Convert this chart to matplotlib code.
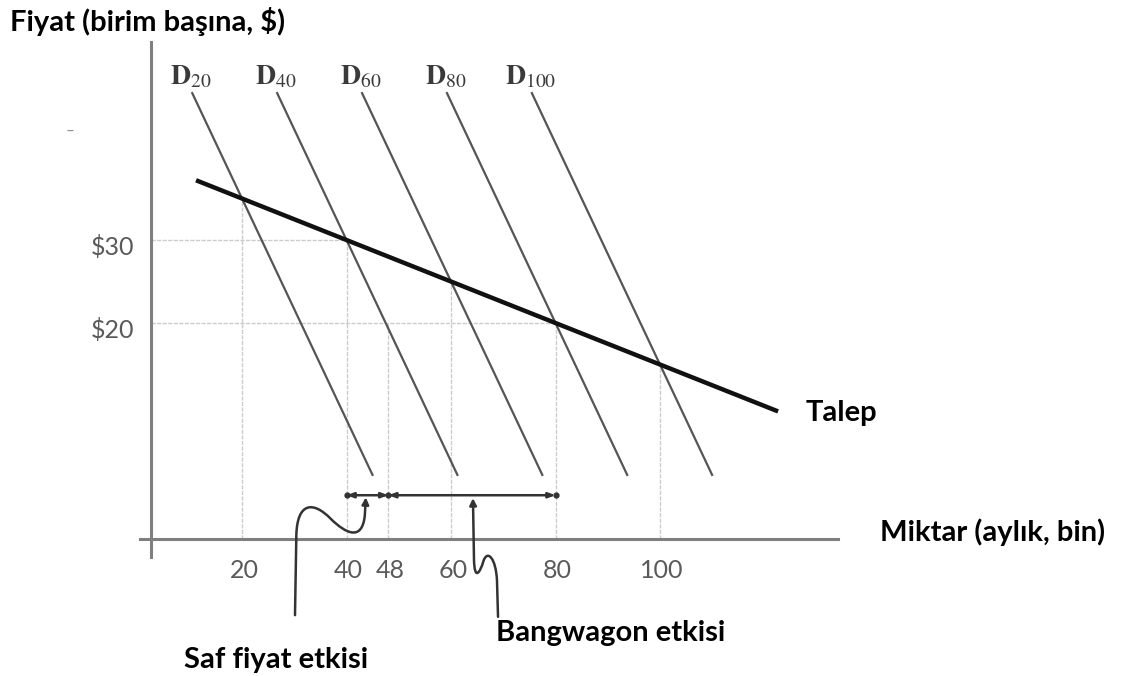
import numpy as np
import matplotlib.pyplot as plt
from matplotlib.path import Path
from matplotlib.patches import FancyArrowPatch

plt.rcParams['font.family'] = ['Lato', 'DejaVu Sans']
plt.rcParams['mathtext.fontset'] = 'stix'

# --- data ---
q_levels = [20, 40, 60, 80, 100]          # where each D_n meets Talep
p_levels = [35, 30, 25, 20, 15]
d_names = ['20', '40', '60', '80', '100']
d_slope = -0.75                            # dQ/dP of the D_n curves
d_top_p = 47.7
d_bottom_p = 1.7

talep_q = [11.2, 122.6]
talep_p = [37.2, 9.35]

x_ticks = [20, 40, 48, 60, 80, 100]
y_ticks = [30, 20]
y_ticklabels = ['$30', '$20']

# guide lines: vertical ones run up to these prices, horizontal ones out to these quantities
guide_q = [20, 40, 48, 60, 80, 100]
guide_p = [35, 30, 20, 25, 20, 15]
hguide_p = [30, 20]
hguide_q = [40, 80]

saf_range = (40, 48)
bandwagon_range = (48, 80)
bracket_p = -0.75

# pointer squiggles (data coords)
saf_path = [(30.14, -15.2), (30.4, -5.5), (30.6, -1.6), (33.6, -1.4), (37.0, -3.6),
            (39.9, -5.4), (43.0, -6.3), (43.5, -3.2), (43.7, -1.0)]
bw_path = [(69.0, -15.4), (68.8, -11.0), (68.6, -8.4), (67.0, -7.2), (66.2, -8.7),
           (65.6, -10.0), (64.5, -11.2), (64.4, -8.5), (64.2, -1.1)]

# axis geometry
y_axis_q = 2.6
x_axis_p = -6.0

fig = plt.figure(figsize=(11.26, 6.76), dpi=100)
ax = fig.add_axes([0, 0, 1, 1])
ax.set_xlim(-26.32, 189.19)
ax.set_ylim(-22.53, 58.92)
ax.axis('off')

guide_kw = dict(color='#cccccc', lw=1.0, linestyle=(0, (3, 1)), zorder=1)
for q, p in zip(guide_q, guide_p):
    ax.plot([q, q], [x_axis_p, p], **guide_kw)
for p, q in zip(hguide_p, hguide_q):
    ax.plot([y_axis_q, q], [p, p], **guide_kw)

# axes
ax.plot([y_axis_q, y_axis_q], [-8.2, 53.8], color='#7f7f7f', lw=2.2, zorder=2)
ax.plot([0.5, 134.0], [x_axis_p, x_axis_p], color='#7f7f7f', lw=2.2, zorder=2)

# D_n curves
for q, p, name in zip(q_levels, p_levels, d_names):
    q_top = q + d_slope * (d_top_p - p)
    q_bot = q + d_slope * (d_bottom_p - p)
    ax.plot([q_top, q_bot], [d_top_p, d_bottom_p], color='#555555', lw=1.6, zorder=3)
    ax.text(q_top - 0.3, d_top_p + 0.4, r'$\mathbf{D}_{' + name + '}$', fontsize=20,
            color='#3a3a3a', ha='center', va='bottom')

# Talep
ax.plot(talep_q, talep_p, color='#111111', lw=3.2, solid_capstyle='butt', zorder=4)
ax.text(127.8, 9.2, 'Talep', fontsize=21, weight='bold', ha='left', va='center')

# tick labels
for t in x_ticks:
    ax.text(t + 0.4, -9.8, str(t), fontsize=18, color='#5a5a5a', ha='center', va='center')
for p, lab in zip(y_ticks, y_ticklabels):
    ax.text(-0.6, p - 0.85, lab, fontsize=18, color='#5a5a5a', ha='right', va='center')

# effect brackets
for a, b in [saf_range, bandwagon_range]:
    ax.annotate('', xy=(b, bracket_p), xytext=(a, bracket_p),
                arrowprops=dict(arrowstyle='<|-|>,head_length=0.4,head_width=0.15',
                                color='#333333', lw=1.8, shrinkA=0, shrinkB=0))
ax.plot([40, 48, 80], [bracket_p] * 3, 'o', color='#333333', ms=3.5, zorder=5)

codes = [Path.MOVETO, Path.LINETO, Path.CURVE4, Path.CURVE4, Path.CURVE4,
         Path.CURVE4, Path.CURVE4, Path.CURVE4, Path.LINETO]
for pts in [saf_path, bw_path]:
    arr = FancyArrowPatch(path=Path(pts, codes),
                          arrowstyle='-|>,head_length=4,head_width=2',
                          color='#333333', lw=1.8, zorder=5)
    ax.add_patch(arr)

# labels
ax.text(-24.4, 56.3, 'Fiyat (birim başına, $)', fontsize=21, weight='bold',
        ha='left', va='center')
ax.text(142.1, -5.2, 'Miktar (aylık, bin)', fontsize=21, weight='bold',
        ha='left', va='center')
ax.text(26.5, -20.6, 'Saf fiyat etkisi', fontsize=21, weight='bold',
        ha='center', va='center')
ax.text(90.5, -17.3, 'Bangwagon etkisi', fontsize=21, weight='bold',
        ha='center', va='center')
ax.text(-12.9, 43.0, '–', fontsize=11, color='#888888', ha='center', va='center')

fig.savefig('out.png', dpi=100)
